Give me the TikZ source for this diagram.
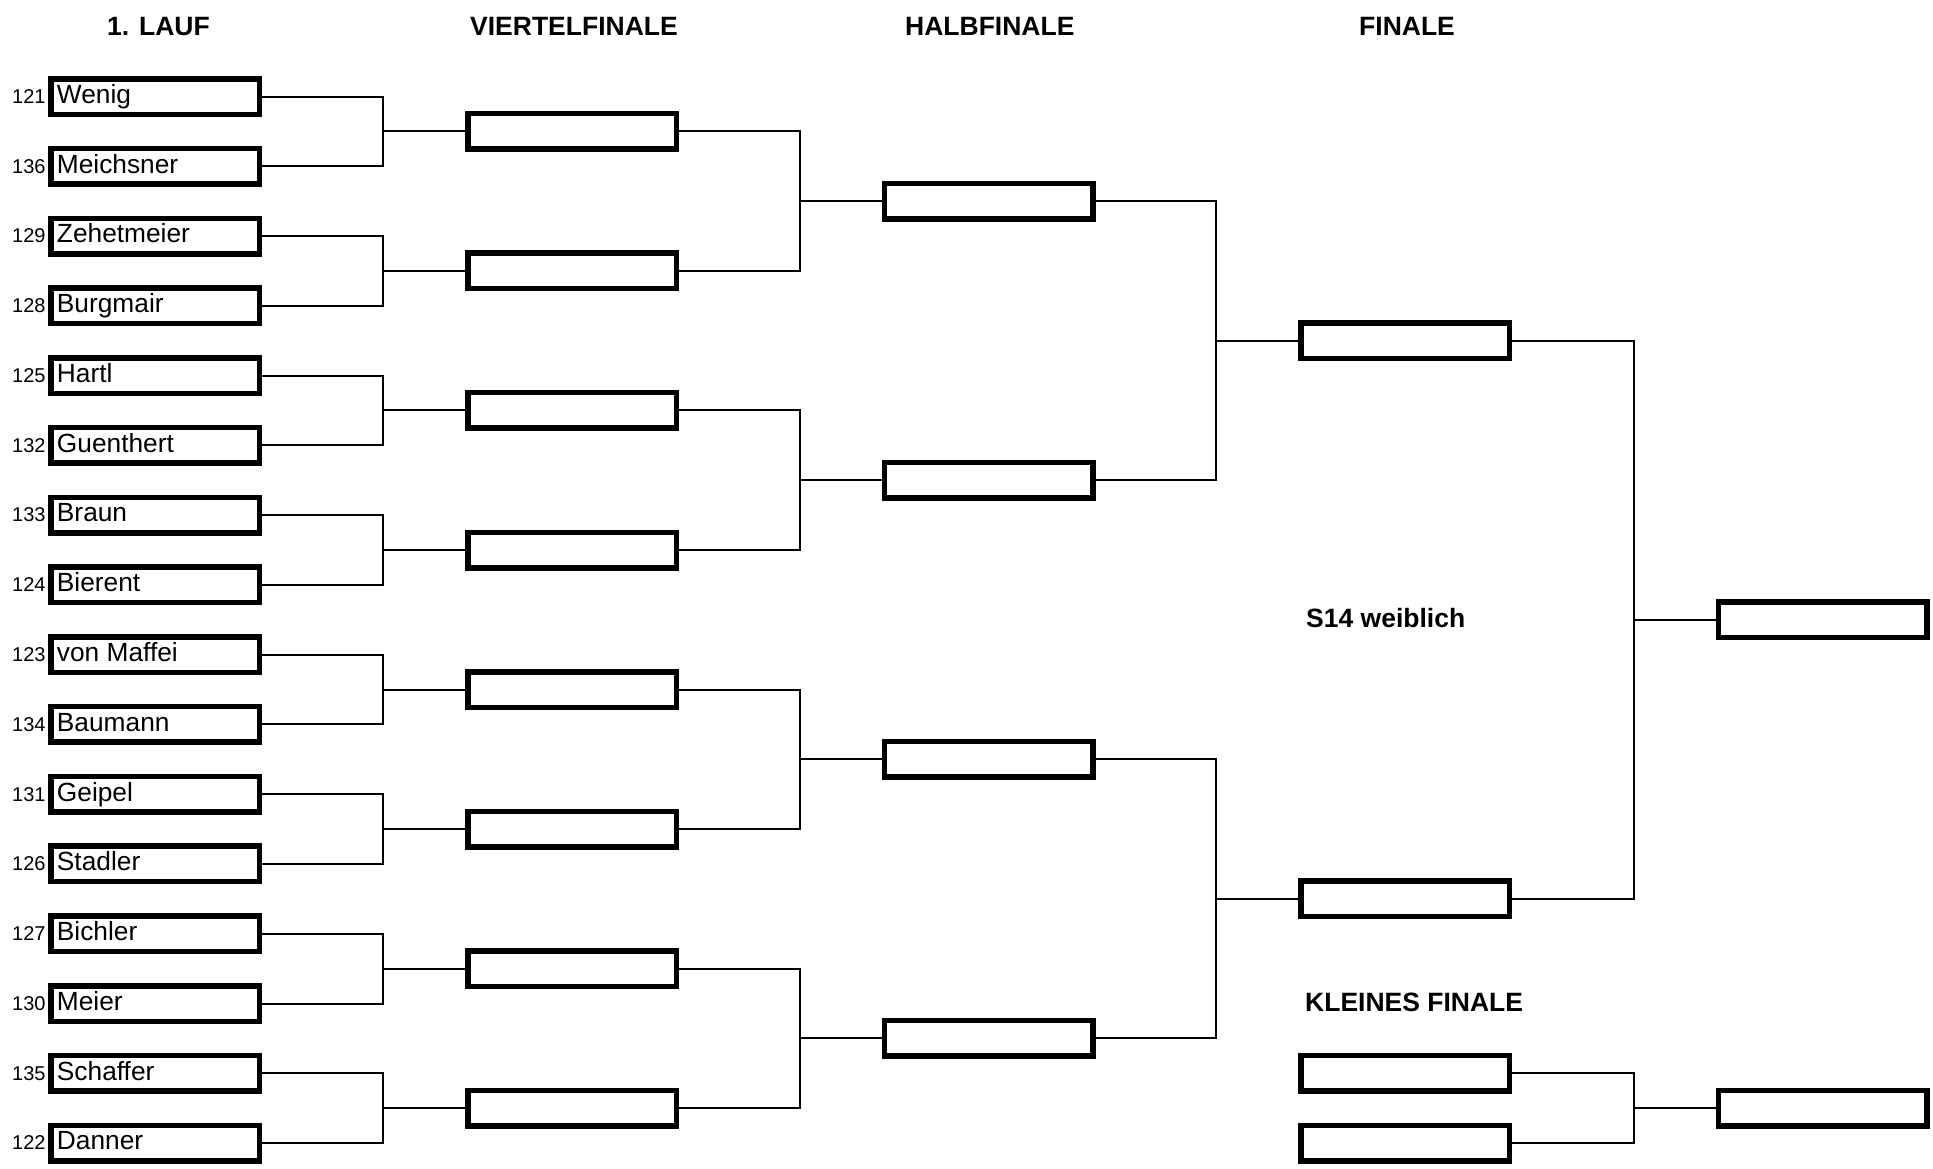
\documentclass[tikz,border=0pt]{standalone}
\usepackage{fontspec}
\setmainfont{Liberation Sans}
\tikzset{
  slot/.style={draw, line width=5.5pt, minimum width=208.5pt, minimum height=35.5pt, inner sep=0pt, outer sep=0pt},
  conn/.style={line width=2pt},
  pname/.style={anchor=base west, inner sep=0pt, font=\fontsize{26.3}{30}\selectfont},
  seed/.style={anchor=base east, inner sep=0pt, font=\fontsize{20}{24}\selectfont},
  head/.style={anchor=base west, inner sep=0pt, font=\fontsize{26.5}{30}\selectfont\bfseries},
}
\begin{document}
\begin{tikzpicture}[x=1pt,y=-1pt]
\useasboundingbox (0,0) rectangle (1933,1168);
% headings
\node[head] (h1) at (107,35) {1. LAUF};
\node[head] (h2) at (470,35) {VIERTELFINALE};
\node[head] (h3) at (905,35) {HALBFINALE};
\node[head] (h4) at (1359,35) {FINALE};
\node[head] (h5) at (1306,627) {S14 weiblich};
\node[head] (h6) at (1305,1011) {KLEINES FINALE};
% first round
\foreach \i/\num/\nm in {0/121/Wenig,1/136/Meichsner,2/129/Zehetmeier,3/128/Burgmair,
  4/125/Hartl,5/132/Guenthert,6/133/Braun,7/124/Bierent,8/123/von Maffei,9/134/Baumann,
  10/131/Geipel,11/126/Stadler,12/127/Bichler,13/130/Meier,14/135/Schaffer,15/122/Danner}{
  \node[slot] (r\i) at (155,{96.5+69.77*\i}) {};
  \node[pname] (n\i) at ([xshift=6pt,yshift=-6.8pt]r\i.west) {\nm};
  \node[seed] (s\i) at ([xshift=-5pt,yshift=-6.8pt]r\i.west) {\num};
}
% quarter finals
\foreach \j in {0,...,7}{
  \node[slot] (v\j) at (572,{131.4+139.54*\j}) {};
}
% half finals
\foreach \k in {0,...,3}{
  \node[slot] (hf\k) at (988.5,{201.2+279.08*\k}) {};
}
% finals
\node[slot] (f0) at (1405,340.7) {};
\node[slot] (f1) at (1405,898.9) {};
\node[slot] (w) at (1822.5,619.8) {};
% small final
\node[slot] (k0) at (1405,1073.3) {};
\node[slot] (k1) at (1405,1143.1) {};
\node[slot] (kw) at (1822.5,1108.2) {};
% connectors
\foreach \j in {0,...,7}{
  \pgfmathtruncatemacro{\a}{2*\j}
  \pgfmathtruncatemacro{\b}{2*\j+1}
  \coordinate (jv\j) at ([xshift=-84.5pt]v\j.west);
  \draw[conn] (r\a.east) -| (jv\j) |- (r\b.east);
  \draw[conn] (jv\j) -- (v\j.west);
}
\foreach \k in {0,...,3}{
  \pgfmathtruncatemacro{\a}{2*\k}
  \pgfmathtruncatemacro{\b}{2*\k+1}
  \coordinate (jh\k) at ([xshift=-84.5pt]hf\k.west);
  \draw[conn] (v\a.east) -| (jh\k) |- (v\b.east);
  \draw[conn] (jh\k) -- (hf\k.west);
}
\coordinate (jf0) at ([xshift=-84.5pt]f0.west);
\draw[conn] (hf0.east) -| (jf0) |- (hf1.east);
\draw[conn] (jf0) -- (f0.west);
\coordinate (jf1) at ([xshift=-84.5pt]f1.west);
\draw[conn] (hf2.east) -| (jf1) |- (hf3.east);
\draw[conn] (jf1) -- (f1.west);
\coordinate (jw) at ([xshift=-84.5pt]w.west);
\draw[conn] (f0.east) -| (jw) |- (f1.east);
\draw[conn] (jw) -- (w.west);
\coordinate (jk) at ([xshift=-84.5pt]kw.west);
\draw[conn] (k0.east) -| (jk) |- (k1.east);
\draw[conn] (jk) -- (kw.west);
\end{tikzpicture}
\end{document}
